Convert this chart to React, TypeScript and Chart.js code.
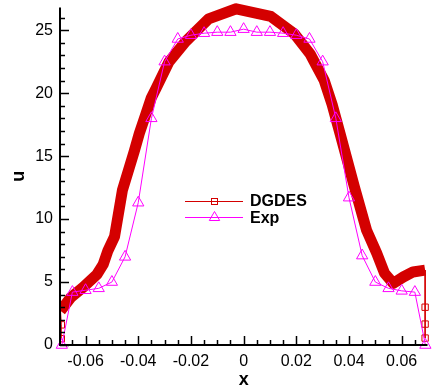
import React, { useEffect, useRef } from 'react';
import { Chart, registerables } from 'chart.js';

Chart.register(...registerables);

// ---- data ----
const dgdesX = [
  -0.0692, -0.0692, -0.0695, -0.0655, -0.0608, -0.0557, -0.0533, -0.0515, -0.049, -0.046,
  -0.0415, -0.0396, -0.037, -0.0351, -0.0332, -0.0283, -0.022, -0.0133, -0.0028, 0.0103,
  0.0193, 0.0253, 0.0268, 0.0306, 0.0336, 0.0366, 0.042, 0.0467, 0.0505, 0.0535,
  0.0568, 0.0606, 0.0643, 0.0689, 0.0689, 0.0689, 0.0689,
];
const dgdesU = [
  0.5, 1.6, 2.7, 3.8, 4.6, 5.6, 6.4, 7.5, 8.6, 12.3,
  15.4, 16.8, 18.4, 19.6, 20.4, 22.5, 24.1, 25.9, 26.7, 26.1,
  24.7, 23.1, 22.5, 21.0, 19.1, 16.8, 12.6, 9.1, 7.3, 5.7,
  4.9, 5.4, 5.8, 5.95, 3.0, 1.66, 0.55,
];

const expX = [
  -0.069, -0.065, -0.06, -0.055, -0.05, -0.045, -0.04, -0.035, -0.03, -0.025,
  -0.02, -0.015, -0.01, -0.005, 0, 0.005, 0.01, 0.015, 0.02, 0.025,
  0.03, 0.035, 0.04, 0.045, 0.05, 0.055, 0.06, 0.065, 0.069,
];
const expU = [
  0, 4.2, 4.35, 4.5, 5.0, 7.0, 11.3, 18.0, 22.5, 24.3,
  24.6, 24.76, 24.84, 24.84, 25.08, 24.84, 24.84, 24.76, 24.6, 24.3,
  22.5, 18.0, 11.7, 7.1, 5.0, 4.5, 4.3, 4.2, 0,
];

const seriesLabels = ['DGDES', 'Exp'];
const xTickValues = [-0.06, -0.04, -0.02, 0, 0.02, 0.04, 0.06];
const yTickValues = [0, 5, 10, 15, 20, 25];
const X_MIN = -0.0697;
const X_MAX = 0.0698;
const Y_MIN = 0;
const Y_MAX = 26.8;
const X_MINOR_STEP = 0.005;
const Y_MINOR_STEP = 1;

const FONT = '"Liberation Sans", Arial, Helvetica, sans-serif';
const RED = '#d40000';
const MAGENTA = '#ff00ff';

const thickStart = 2;
const thickEnd = dgdesX.length - 4;

const axesPlugin = {
  id: 'tecAxes',
  afterDatasetsDraw(chart: any) {
    const { ctx, chartArea, scales } = chart;
    const { left, right, top, bottom } = chartArea;
    const xs = scales.x;
    const ys = scales.y;
    ctx.save();
    ctx.strokeStyle = '#000';
    ctx.lineWidth = 1.5;
    for (let i = Math.ceil(X_MIN / X_MINOR_STEP); i * X_MINOR_STEP <= X_MAX; i++) {
      const v = i * X_MINOR_STEP;
      const major = xTickValues.some((t) => Math.abs(t - v) < 1e-9);
      const px = Math.round(xs.getPixelForValue(v)) + 0.5;
      ctx.beginPath();
      ctx.moveTo(px, bottom);
      ctx.lineTo(px, bottom - (major ? 9 : 5));
      ctx.stroke();
    }
    for (let i = Math.ceil(Y_MIN / Y_MINOR_STEP); i * Y_MINOR_STEP <= Y_MAX; i++) {
      const v = i * Y_MINOR_STEP;
      const major = yTickValues.some((t) => Math.abs(t - v) < 1e-9);
      const py = Math.round(ys.getPixelForValue(v)) + 0.5;
      ctx.beginPath();
      ctx.moveTo(left, py);
      ctx.lineTo(left + (major ? 9 : 5), py);
      ctx.stroke();
    }
    ctx.lineWidth = 2;
    ctx.beginPath();
    ctx.moveTo(left, top);
    ctx.lineTo(left, bottom);
    ctx.lineTo(right, bottom);
    ctx.stroke();
    ctx.restore();
  },
  afterDraw(chart: any) {
    const { ctx } = chart;
    ctx.save();
    const x0 = 185;
    const x1 = 243;
    const xm = 214.5;
    const rows = [201.5, 217.5];
    ctx.lineWidth = 1;
    ctx.strokeStyle = RED;
    ctx.beginPath();
    ctx.moveTo(x0, rows[0]);
    ctx.lineTo(x1, rows[0]);
    ctx.stroke();
    ctx.strokeRect(xm - 3, rows[0] - 3, 6, 6);
    ctx.strokeStyle = MAGENTA;
    ctx.beginPath();
    ctx.moveTo(x0, rows[1]);
    ctx.lineTo(x1, rows[1]);
    ctx.stroke();
    const r = 6;
    ctx.beginPath();
    ctx.moveTo(xm, rows[1] - r);
    ctx.lineTo(xm + r * Math.sin((2 * Math.PI) / 3), rows[1] + r / 2);
    ctx.lineTo(xm - r * Math.sin((2 * Math.PI) / 3), rows[1] + r / 2);
    ctx.closePath();
    ctx.stroke();
    ctx.fillStyle = '#000';
    ctx.font = 'bold 16px ' + FONT;
    ctx.textAlign = 'left';
    ctx.textBaseline = 'alphabetic';
    ctx.fillText(seriesLabels[0], 250, 206);
    ctx.fillText(seriesLabels[1], 250, 223);
    ctx.restore();
  },
};

export default function App() {
  const canvasRef = useRef<HTMLCanvasElement | null>(null);

  useEffect(() => {
    const canvas = canvasRef.current;
    if (!canvas) return;
    const chart = new Chart(canvas, {
      type: 'line',
      data: {
        datasets: [
          {
            label: seriesLabels[1],
            data: expX.map((x, i) => ({ x, y: expU[i] })),
            borderColor: MAGENTA,
            borderWidth: 1,
            pointStyle: 'triangle',
            pointRadius: 6.5,
            pointBorderWidth: 1,
            pointBorderColor: MAGENTA,
            pointBackgroundColor: 'rgba(0,0,0,0)',
            tension: 0,
            clip: false,
            order: 0,
          } as any,
          {
            label: seriesLabels[0],
            data: dgdesX.map((x, i) => ({ x, y: dgdesU[i] })),
            borderColor: RED,
            borderWidth: 11,
            borderJoinStyle: 'round',
            borderCapStyle: 'butt',
            segment: {
              borderWidth: (c: any) =>
                c.p0DataIndex < thickStart || c.p0DataIndex >= thickEnd ? 1 : 11,
            },
            pointStyle: 'rect',
            pointRadius: (c: any) =>
              c.dataIndex < thickStart || c.dataIndex > thickEnd ? 4.5 : 0,
            pointBorderWidth: 1,
            pointBorderColor: RED,
            pointBackgroundColor: 'rgba(0,0,0,0)',
            tension: 0,
            clip: { left: 0, right: 10, top: 10, bottom: 10 },
            order: 1,
          } as any,
        ],
      },
      options: {
        responsive: false,
        animation: false,
        devicePixelRatio: 1,
        layout: { padding: { top: 6, right: 5, left: 0, bottom: 0 } },
        plugins: {
          legend: { display: false },
          tooltip: { enabled: false },
        },
        scales: {
          x: {
            type: 'linear',
            min: X_MIN,
            max: X_MAX,
            afterBuildTicks: (s: any) => {
              s.ticks = xTickValues.map((v) => ({ value: v }));
            },
            afterFit: (s: any) => {
              s.height = 44;
            },
            grid: { display: false, drawTicks: false },
            border: { display: false },
            ticks: {
              color: '#000',
              font: { family: FONT, size: 16 },
              padding: 7,
              maxRotation: 0,
              autoSkip: false,
              callback: (v: any) => (v === 0 ? '0' : Number(v).toFixed(2)),
            },
            title: {
              display: true,
              text: 'x',
              color: '#000',
              font: { family: FONT, size: 18, weight: 'bold', lineHeight: 1 },
              padding: { top: 0, bottom: 0 },
            },
          },
          y: {
            type: 'linear',
            min: Y_MIN,
            max: Y_MAX,
            afterBuildTicks: (s: any) => {
              s.ticks = yTickValues.map((v) => ({ value: v }));
            },
            afterFit: (s: any) => {
              s.width = 60;
            },
            grid: { display: false, drawTicks: false },
            border: { display: false },
            ticks: {
              color: '#000',
              font: { family: FONT, size: 16, lineHeight: 0.01 },
              padding: 7,
              autoSkip: false,
              callback: (v: any) => String(v),
            },
            title: {
              display: true,
              text: 'u',
              color: '#000',
              font: { family: FONT, size: 18, weight: 'bold', lineHeight: 1 },
              padding: { top: 10, bottom: 0 },
            },
          },
        },
      } as any,
      plugins: [axesPlugin],
    });
    return () => chart.destroy();
  }, []);

  return (
    <div style={{ position: 'fixed', left: 0, top: 0, width: 435, height: 389, background: '#fff' }}>
      <canvas ref={canvasRef} width={435} height={389} style={{ display: 'block' }} />
    </div>
  );
}
